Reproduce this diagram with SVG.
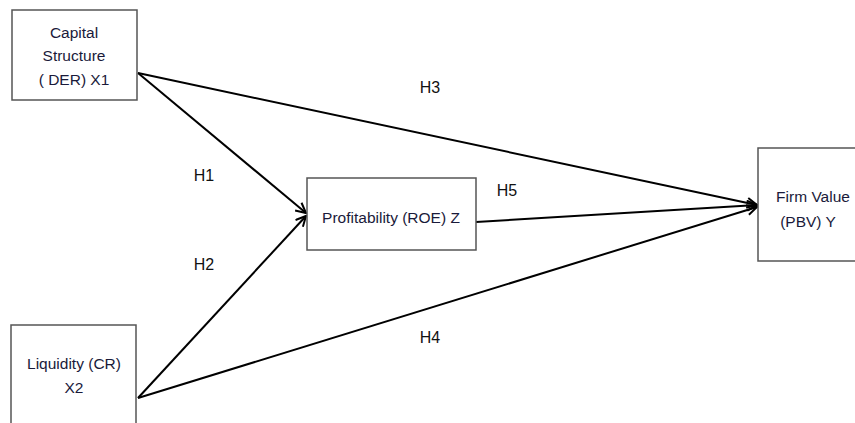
<svg xmlns="http://www.w3.org/2000/svg" width="855" height="423" viewBox="0 0 855 423">
<style>
.box{fill:#fff;stroke:#555;stroke-width:1.5}
.t{font-family:"Liberation Sans",Arial,sans-serif;font-size:15.5px;fill:#1a1a3a;text-anchor:middle}
.lbl{font-family:"Liberation Sans",Arial,sans-serif;font-size:16px;fill:#111;text-anchor:middle}
.c{stroke:#000;stroke-width:2;fill:none;marker-end:url(#ah)}
</style>
<defs>
<marker id="ah" viewBox="0 0 12 12" refX="11" refY="6" markerWidth="12" markerHeight="12" markerUnits="userSpaceOnUse" orient="auto">
<path d="M1,1 L11,6 L1,11" fill="none" stroke="#000" stroke-width="2"/>
</marker>
</defs>
<rect width="855" height="423" fill="#fff"/>
<g id="connectors">
<line class="c" x1="138" y1="73" x2="306" y2="213"/>
<line class="c" x1="138" y1="398" x2="306" y2="216"/>
<line class="c" x1="138" y1="73" x2="757" y2="205"/>
<line class="c" x1="138" y1="398" x2="757" y2="207"/>
<line class="c" x1="476" y1="222" x2="757" y2="205"/>
</g>
<g id="capital">
<rect class="box" x="12" y="10" width="125" height="90"/>
<text class="t" x="74" y="38">Capital</text>
<text class="t" x="74" y="61">Structure</text>
<text class="t" x="74" y="85">( DER) X1</text>
</g>
<g id="liquidity">
<rect class="box" x="11" y="325" width="125" height="110"/>
<text class="t" x="74" y="369">Liquidity (CR)</text>
<text class="t" x="74" y="393">X2</text>
</g>
<g id="profitability">
<rect class="box" x="307" y="178" width="169" height="72"/>
<text class="t" x="391" y="223">Profitability (ROE) Z</text>
</g>
<g id="firmvalue">
<rect class="box" x="758" y="148" width="110" height="113"/>
<text class="t" x="813" y="202">Firm Value</text>
<text class="t" x="808" y="227">(PBV) Y</text>
</g>
<g id="labels">
<text class="lbl" x="430" y="93">H3</text>
<text class="lbl" x="204" y="181">H1</text>
<text class="lbl" x="204" y="270">H2</text>
<text class="lbl" x="507" y="196">H5</text>
<text class="lbl" x="430" y="343">H4</text>
</g>
</svg>
